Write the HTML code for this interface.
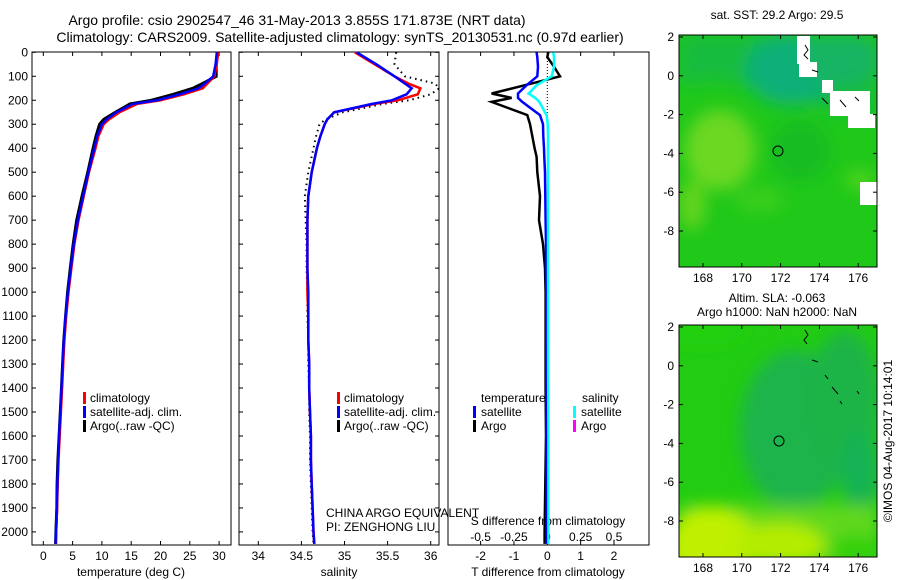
<!DOCTYPE html>
<html><head><meta charset="utf-8">
<style>
body{margin:0;background:#fff;}
svg{display:block;font-family:"Liberation Sans",sans-serif;}
text{fill:#000;}
</style></head>
<body>
<svg id="fig" width="900" height="580" viewBox="0 0 900 580">
<defs>
<filter id="bl" x="-50%" y="-50%" width="200%" height="200%"><feGaussianBlur stdDeviation="8"/></filter>
<clipPath id="c1"><rect x="32" y="52" width="199" height="493"/></clipPath>
<clipPath id="c2"><rect x="239" y="52" width="200" height="493"/></clipPath>
<clipPath id="c3"><rect x="448" y="52" width="201" height="493"/></clipPath>
<clipPath id="cm1"><rect x="679" y="35" width="198" height="232"/></clipPath>
<clipPath id="cm2"><rect x="679" y="325" width="198" height="232"/></clipPath>
</defs>
<text x="297" y="25" font-size="14" text-anchor="middle">Argo profile: csio 2902547_46 31-May-2013 3.855S 171.873E (NRT data)</text>
<text x="340" y="42" font-size="14" text-anchor="middle">Climatology: CARS2009. Satellite-adjusted climatology: synTS_20130531.nc (0.97d earlier)</text>

<g id="p1"></g>
<g id="p2"></g>
<g id="p3"></g>

<g>
<text x="777" y="19" font-size="12" text-anchor="middle">sat. SST: 29.2 Argo: 29.5</text>
<g clip-path="url(#cm1)">
<rect x="679" y="35" width="198" height="232" fill="#20c81a"/>
<g filter="url(#bl)">
<polygon points="679,35 877,35 877,120 830,110 790,100 760,90 720,80 679,85" fill="#18bc3c"/>
<ellipse cx="790" cy="70" rx="45" ry="35" fill="#10b078"/>
<ellipse cx="840" cy="60" rx="40" ry="25" fill="#12b464"/>
<ellipse cx="720" cy="150" rx="35" ry="40" fill="#6cd820"/>
<ellipse cx="692" cy="205" rx="14" ry="25" fill="#62d41e"/>
<ellipse cx="760" cy="200" rx="25" ry="12" fill="#3ace1c"/>
<ellipse cx="860" cy="180" rx="15" ry="10" fill="#50d41c"/>
<ellipse cx="800" cy="150" rx="30" ry="30" fill="#18bc24"/>
</g>
<g fill="#fff">
<rect x="797" y="36" width="13" height="28"/><rect x="799" y="62" width="18" height="15"/>
<rect x="822" y="80" width="11" height="13"/><rect x="830" y="91" width="40" height="25"/>
<rect x="848" y="114" width="27" height="14"/><rect x="860" y="182" width="17" height="23"/>
</g>
<path d="M805,45 l3,5 l-4,5 l4,4 M822,98 l6,6 M840,100 l6,7 M855,97 l4,4 M812,70 l6,2" stroke="#000" fill="none" stroke-width="1"/>
<circle cx="778" cy="151" r="5" fill="none" stroke="#000" stroke-width="1"/>
</g>
<rect x="679" y="35" width="198" height="232" fill="none" stroke="#000" stroke-width="1"/>
<g id="m1ax"></g>
</g>

<g>
<text x="777" y="302" font-size="12" text-anchor="middle">Altim. SLA: -0.063</text>
<text x="777" y="316" font-size="12" text-anchor="middle">Argo h1000: NaN h2000: NaN</text>
<g clip-path="url(#cm2)">
<rect x="679" y="325" width="198" height="232" fill="#22cc12"/>
<g filter="url(#bl)">
<ellipse cx="795" cy="430" rx="55" ry="80" fill="#1ab44c"/>
<ellipse cx="845" cy="400" rx="35" ry="70" fill="#1ab446"/>
<ellipse cx="860" cy="470" rx="20" ry="40" fill="#16b254"/>
<ellipse cx="705" cy="330" rx="40" ry="15" fill="#24d010"/>
<rect x="679" y="505" width="198" height="60" fill="#60d81a"/>
<ellipse cx="712" cy="545" rx="45" ry="38" fill="#c0f000"/>
<ellipse cx="780" cy="545" rx="45" ry="22" fill="#b4ec04"/>
<ellipse cx="855" cy="550" rx="25" ry="15" fill="#30d010"/>
</g>
<path d="M805,330 l3,5 l-4,5 l3,4 M812,360 l6,2 M825,375 l3,4 M832,387 l6,7 M857,391 l2,3 M840,401 l2,3" stroke="#000" fill="none" stroke-width="1"/>
<circle cx="779" cy="441" r="5" fill="none" stroke="#000" stroke-width="1"/>
</g>
<rect x="679" y="325" width="198" height="232" fill="none" stroke="#000" stroke-width="1"/>
<g id="m2ax"></g>
</g>
<text transform="translate(892,441) rotate(-90)" font-size="12" text-anchor="middle">©IMOS 04-Aug-2017 10:14:01</text>
</svg>
<script>
const depths = [0,50,100,130,150,175,200,215,250,280,300,350,400,500,600,700,800,900,1000,1100,1200,1300,1400,1500,1600,1700,1800,1900,2000,2050];
const tempClim = [29.8,29.6,29.2,28,27.2,24,20,16,13,11.2,10.3,9.4,8.9,7.8,6.9,6.0,5.3,4.8,4.3,3.9,3.6,3.4,3.2,3.0,2.8,2.6,2.45,2.35,2.2,2.15];
const tempSat = [29.6,29.4,29.0,27.6,26.5,23.3,19.4,15.3,12.5,10.8,10.0,9.2,8.7,7.7,6.8,5.9,5.2,4.7,4.2,3.8,3.5,3.3,3.1,2.9,2.7,2.55,2.4,2.3,2.15,2.1];
const tempArgo = [29.8,29.5,29.5,27.2,25.5,22.2,18.4,14.8,12.3,10.3,9.6,9.0,8.5,7.6,6.6,5.7,5.1,4.6,4.15,3.8,3.5,3.3,3.1,2.9,2.7,2.5,2.35,2.3,2.15,2.1];
const salClim = [35.12,35.35,35.58,35.74,35.88,35.85,35.62,35.35,34.88,34.8,34.77,34.72,34.68,34.62,34.58,34.57,34.57,34.57,34.57,34.58,34.58,34.59,34.59,34.6,34.61,34.61,34.62,34.63,34.64,34.65];
const salSat = [35.14,35.37,35.58,35.7,35.78,35.72,35.55,35.32,34.88,34.8,34.77,34.72,34.68,34.62,34.58,34.57,34.57,34.57,34.58,34.58,34.58,34.59,34.59,34.6,34.61,34.61,34.62,34.63,34.64,34.65];
const salArgo = [35.6,35.58,35.7,36.05,36.1,36.0,35.75,35.45,34.98,34.78,34.71,34.67,34.64,34.58,34.54,34.55,34.56,34.56,34.57,34.57,34.58,34.58,34.59,34.59,34.6,34.6,34.61,34.62,34.63,34.64];
const diffDepths = [0,20,60,100,137,172,190,207,262,300,350,400,436,500,600,700,800,900,1000,1200,1400,1600,1800,2000,2050];
const tDiffArgo = [0.03,0.0,0.2,0.38,-0.67,-1.67,-1.07,-1.67,-0.6,-0.52,-0.45,-0.38,-0.32,-0.3,-0.22,-0.25,-0.13,-0.07,-0.05,-0.05,-0.05,-0.04,-0.06,-0.08,-0.08];
const tDiffSat = [-0.32,-0.3,-0.28,-0.3,-0.62,-0.88,-0.88,-0.75,-0.22,-0.13,-0.12,-0.1,-0.09,-0.07,-0.06,-0.05,-0.04,-0.04,-0.03,-0.03,-0.03,-0.03,-0.02,-0.02,-0.02];
const sDiffSat = [0.045,0.05,0.05,0.033,-0.08,-0.14,-0.09,-0.06,-0.005,0.003,0.005,0.005,0.005,0.005,0.005,0.005,0.005,0.005,0.006,0.006,0.007,0.008,0.008,0.008,0.008];
const depthTicks = [0,100,200,300,400,500,600,700,800,900,1000,1100,1200,1300,1400,1500,1600,1700,1800,1900,2000];
const tempTicks = [0,5,10,15,20,25,30];
const salTicks = [34,34.5,35,35.5,36];
const salTickLabels = ["34","34.5","35","35.5","36"];
const tDiffTicks = [-2,-1,0,1,2];
const sDiffTicks = [-0.5,-0.25,0,0.25,0.5];
const sDiffTickLabels = ["-0.5","-0.25","0","0.25","0.5"];
const lonTicks = [168,170,172,174,176];
const latTicks = [2,0,-2,-4,-6,-8];

const NS = "http://www.w3.org/2000/svg";
const yD = d => 52.3 + d * 0.2398;
const xT = t => 43.3 + t * 5.86;
const xS = s => 258.3 + (s - 34) * 86.2;
const xTd = t => 547.3 + t * 33.35;
const xSd = s => 547.3 + s * 133.4;
const mLon = l => 703 + (l - 168) * 19.4;
const mLat1 = l => 37 + (2 - l) * 19.4;
const mLat2 = l => 327 + (2 - l) * 19.4;

function mk(tag, attrs, parent){
  const e = document.createElementNS(NS, tag);
  for (const k in attrs) e.setAttribute(k, attrs[k]);
  parent.appendChild(e);
  return e;
}
function txt(parent, x, y, s, anchor, size){
  const e = mk('text', {x:x, y:y, 'font-size':size||12, 'text-anchor':anchor||'middle'}, parent);
  e.textContent = s;
  return e;
}
function line(parent, xs, ys, fx, fy, color, w, dash){
  const d = xs.map((v,i)=>(i?'L':'M')+fx(v).toFixed(1)+','+fy(ys[i]).toFixed(1)).join('');
  const attrs = {d:d, fill:'none', stroke:color, 'stroke-width':w};
  if (dash) attrs['stroke-dasharray'] = dash;
  return mk('path', attrs, parent);
}
function frame(g, x0, x1){
  const r = mk('rect', {x:x0, y:52, width:x1-x0, height:493, fill:'none', stroke:'#000', 'stroke-width':1}, g);
  
  
}

const p1 = document.getElementById('p1');
frame(p1, 32, 231);
depthTicks.forEach(d=>{
  mk('line',{x1:32,x2:36,y1:yD(d),y2:yD(d),stroke:'#000'},p1);
  const t = txt(p1, 28, yD(d)+4, String(d), 'end', 12);
  
  
});
tempTicks.forEach(v=>{
  mk('line',{x1:xT(v),x2:xT(v),y1:52,y2:56,stroke:'#000'},p1);
  mk('line',{x1:xT(v),x2:xT(v),y1:545,y2:541,stroke:'#000'},p1);
  const t = txt(p1, xT(v), 560, String(v), 'middle', 12);
  
  
});
const xl1 = txt(p1, 131, 576, 'temperature (deg C)', 'middle', 12);


const g1 = mk('g', {'clip-path':'url(#c1)'}, p1);
const l1a = line(g1, tempArgo, depths, xT, yD, '#000', 3);


const l1c = line(g1, tempClim, depths, xT, yD, '#f00', 2.5);


const l1s = line(g1, tempSat, depths, xT, yD, '#00f', 2.5);



function legend(parent, x, items){
  items.forEach((it,i)=>{
    const y = 398 + i*14;
    const g = mk('g', {}, parent);
    
    
    mk('rect', {x:x, y:y-6, width:3, height:12, fill:it[1]}, g);
    txt(g, x+7, y+4, it[0], 'start', 12);
  });
}
legend(p1, 83, [['climatology','#f00'],['satellite-adj. clim.','#00f'],['Argo(..raw -QC)','#000']]);

const p2 = document.getElementById('p2');
frame(p2, 239, 439);
salTicks.forEach((v,i)=>{
  mk('line',{x1:xS(v),x2:xS(v),y1:52,y2:56,stroke:'#000'},p2);
  mk('line',{x1:xS(v),x2:xS(v),y1:545,y2:541,stroke:'#000'},p2);
  const t = txt(p2, xS(v), 560, salTickLabels[i], 'middle', 12);
  
  
});
depthTicks.forEach(d=>{
  mk('line',{x1:239,x2:243,y1:yD(d),y2:yD(d),stroke:'#000'},p2);
  mk('line',{x1:439,x2:435,y1:yD(d),y2:yD(d),stroke:'#000'},p2);
});
const xl2 = txt(p2, 339, 576, 'salinity', 'middle', 12);


const g2 = mk('g', {'clip-path':'url(#c2)'}, p2);
const l2a = line(g2, salArgo, depths, xS, yD, '#000', 2, '1.5,4');


const l2c = line(g2, salClim, depths, xS, yD, '#f00', 2.5);


const l2s = line(g2, salSat, depths, xS, yD, '#00f', 2.5);


legend(p2, 337, [['climatology','#f00'],['satellite-adj. clim.','#00f'],['Argo(..raw -QC)','#000']]);
const pi1 = txt(p2, 326, 517, 'CHINA ARGO EQUIVALENT', 'start', 12);


const pi2 = txt(p2, 326, 531, 'PI: ZENGHONG LIU', 'start', 12);



const p3 = document.getElementById('p3');
frame(p3, 448, 649);
tDiffTicks.forEach(v=>{
  mk('line',{x1:xTd(v),x2:xTd(v),y1:52,y2:56,stroke:'#000'},p3);
  mk('line',{x1:xTd(v),x2:xTd(v),y1:545,y2:541,stroke:'#000'},p3);
  const t = txt(p3, xTd(v), 560, String(v), 'middle', 12);
  
  
});
sDiffTicks.forEach((v,i)=>{
  const t = txt(p3, xSd(v), 541, sDiffTickLabels[i], 'middle', 12);
  
  
});
const sdt = txt(p3, 548, 525, 'S difference from climatology', 'middle', 12);


const tdt = txt(p3, 548, 576, 'T difference from climatology', 'middle', 12);


const g3 = mk('g', {'clip-path':'url(#c3)'}, p3);
mk('line',{x1:xTd(0),x2:xTd(0),y1:52,y2:yD(300),stroke:'#000','stroke-width':1,'stroke-dasharray':'1,2'},g3);
const l3a = line(g3, tDiffArgo, diffDepths, xTd, yD, '#000', 2.5);


const l3s = line(g3, tDiffSat, diffDepths, xTd, yD, '#00f', 2.5);


const l3c = line(g3, sDiffSat, diffDepths, xSd, yD, '#0ff', 2.5);


const lh1 = txt(p3, 481, 402, 'temperature', 'start', 12);


const lh2 = txt(p3, 582, 402, 'salinity', 'start', 12);


[['satellite','#00f',473,412],['Argo','#000',473,426],['satellite','#0ff',573,412],['Argo','#f0f',573,426]].forEach(it=>{
  const g = mk('g', {}, p3);
  
  
  mk('rect', {x:it[2], y:it[3]-6, width:3, height:12, fill:it[1]}, g);
  txt(g, it[2]+8, it[3]+4, it[0], 'start', 12);
});

function mapAxes(id, fy, y0, y1){
  const g = document.getElementById(id);
  lonTicks.forEach(v=>{
    mk('line',{x1:mLon(v),x2:mLon(v),y1:y0,y2:y0+4,stroke:'#000'},g);
    mk('line',{x1:mLon(v),x2:mLon(v),y1:y1,y2:y1-4,stroke:'#000'},g);
    const t = txt(g, mLon(v), y1+15, String(v), 'middle', 12);
    
    
  });
  latTicks.forEach(v=>{
    const y = fy(v);
    if (y < y0-2 || y > y1) return;
    mk('line',{x1:679,x2:683,y1:y,y2:y,stroke:'#000'},g);
    mk('line',{x1:877,x2:873,y1:y,y2:y,stroke:'#000'},g);
    const t = txt(g, 674, y+4, String(v), 'end', 12);
    
    
  });
}
mapAxes('m1ax', mLat1, 35, 267);
mapAxes('m2ax', mLat2, 325, 557);
</script>
</body></html>
